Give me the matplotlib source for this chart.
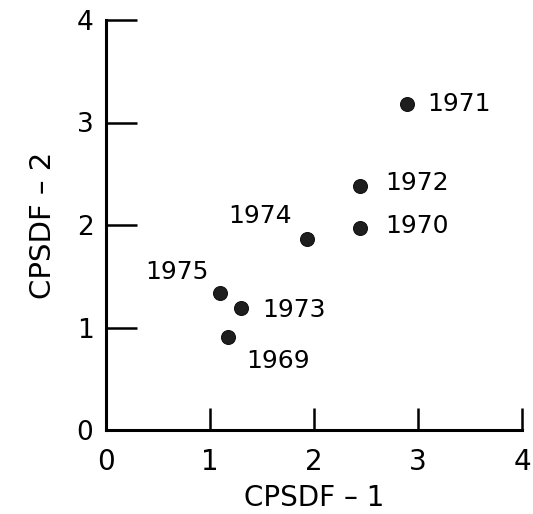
import matplotlib
matplotlib.use("Agg")
import matplotlib.pyplot as plt

years = ["1969", "1970", "1971", "1972", "1973", "1974", "1975"]
cpsdf1 = [1.17, 2.44, 2.89, 2.44, 1.30, 1.93, 1.10]
cpsdf2 = [0.91, 1.97, 3.18, 2.38, 1.19, 1.86, 1.34]
# label offsets in pixels and alignment
offsets = {"1969": (19, -24, "left"), "1970": (25, 2, "left"), "1971": (21, 0, "left"),
           "1972": (25, 3, "left"), "1973": (21, -2, "left"), "1974": (-15, 23, "right"),
           "1975": (-12, 21, "right")}
ticks = [0, 1, 2, 3, 4]

plt.rcParams['font.family'] = ['DejaVu Sans']
fig = plt.figure(figsize=(5.33, 5.14), dpi=100)
ax = fig.add_axes([106/533, 84/514, 416/533, 410/514])
ax.set_xlim(0, 4)
ax.set_ylim(0, 4)
ax.spines['top'].set_visible(False)
ax.spines['right'].set_visible(False)
for s in ['left', 'bottom']:
    ax.spines[s].set_linewidth(2.2)
    ax.spines[s].set_color('black')
ax.set_xticks(ticks)
ax.set_yticks(ticks)
ax.set_xticklabels([str(t) for t in ticks])
ax.set_yticklabels([str(t) for t in ticks])
ax.tick_params(axis='x', direction='in', length=16, width=1.8, pad=13, labelsize=20)
ax.tick_params(axis='y', direction='in', length=22, width=1.8, pad=9, labelsize=19)

ax.scatter(cpsdf1, cpsdf2, s=100, color='#1e1e1e', edgecolors='#111111', linewidths=0.8, zorder=3, clip_on=False)
for x, y, yr in zip(cpsdf1, cpsdf2, years):
    dx, dy, ha = offsets[yr]
    ax.annotate(yr, (x, y), xytext=(dx, dy), textcoords='offset pixels',
                ha=ha, va='center', fontsize=18)

ax.set_xlabel("CPSDF – 1", fontsize=20, labelpad=6)
ax.set_ylabel("CPSDF – 2", fontsize=21, labelpad=14)
fig.savefig("out.png", dpi=100)
